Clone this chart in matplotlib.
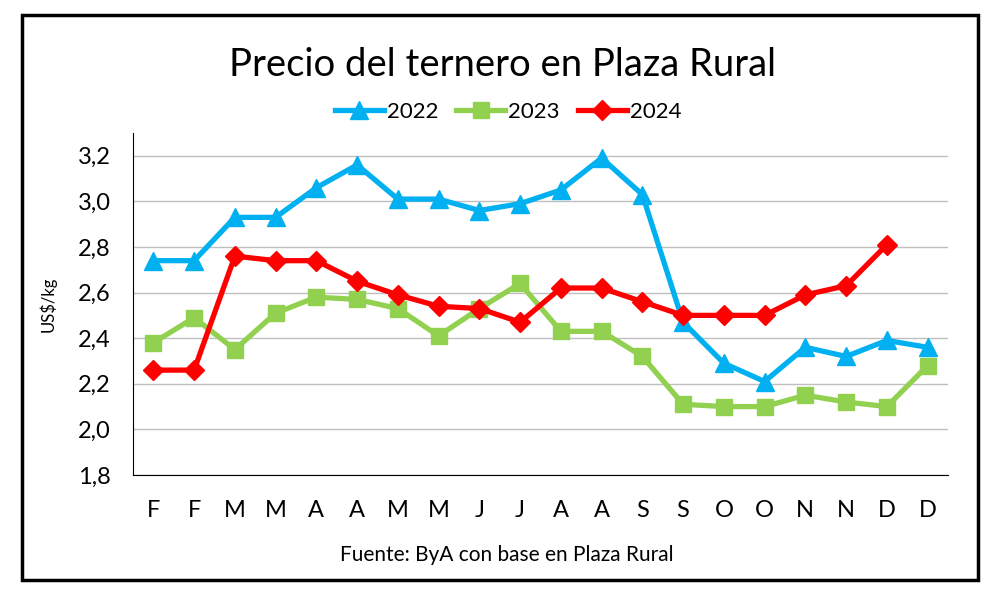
import matplotlib.pyplot as plt
from matplotlib.patches import Rectangle
from matplotlib.ticker import FuncFormatter

plt.rcParams['font.family'] = ['Lato', 'DejaVu Sans']

# Meses (dos registros por mes)
meses = ["F", "F", "M", "M", "A", "A", "M", "M", "J", "J",
         "A", "A", "S", "S", "O", "O", "N", "N", "D", "D"]

# Precios US$/kg
p2022 = [2.74, 2.74, 2.93, 2.93, 3.06, 3.16, 3.01, 3.01, 2.96, 2.99,
         3.05, 3.19, 3.03, 2.47, 2.29, 2.21, 2.36, 2.32, 2.39, 2.36]
p2023 = [2.38, 2.49, 2.35, 2.51, 2.58, 2.57, 2.53, 2.41, 2.53, 2.64,
         2.43, 2.43, 2.32, 2.11, 2.10, 2.10, 2.15, 2.12, 2.10, 2.28]
p2024 = [2.26, 2.26, 2.76, 2.74, 2.74, 2.65, 2.59, 2.54, 2.53, 2.47,
         2.62, 2.62, 2.56, 2.50, 2.50, 2.50, 2.59, 2.63, 2.81]

fig = plt.figure(figsize=(10, 5.95), dpi=100)
ax = fig.add_axes([0.133, 0.2017, 0.815, 0.5748])

x = list(range(len(meses)))
ax.plot(x, p2022, color="#00B0F0", lw=3.8, marker="^", ms=13, label="2022")
ax.plot(x, p2023, color="#92D050", lw=3.8, marker="s", ms=11.5, label="2023")
ax.plot(x[:len(p2024)], p2024, color="#FF0000", lw=3.8, marker="D", ms=10.5, label="2024")

ax.set_xlim(-0.5, len(meses) - 0.5)
ax.set_ylim(1.8, 3.3)
ax.set_yticks([1.8, 2.0, 2.2, 2.4, 2.6, 2.8, 3.0, 3.2])
ax.yaxis.set_major_formatter(FuncFormatter(lambda v, p: f"{v:.1f}".replace(".", ",")))
ax.set_xticks(x)
ax.set_xticklabels(meses)
ax.tick_params(length=0, labelsize=17)
ax.tick_params(axis="y", pad=16)
ax.tick_params(axis="x", pad=18)
ax.grid(axis="y", color="#BFBFBF", lw=1)
ax.set_axisbelow(True)
for s in ["top", "right"]:
    ax.spines[s].set_visible(False)
ax.spines["left"].set_color("black")
ax.spines["bottom"].set_color("black")
ax.set_ylabel("US$/kg", fontsize=12)
ax.yaxis.set_label_coords(-0.094, 0.5)

fig.text(0.503, 0.891, "Precio del ternero en Plaza Rural", ha="center", va="center", fontsize=27.5)
fig.legend(loc="center", bbox_to_anchor=(0.508, 0.812), ncol=3, frameon=False,
           fontsize=16, handlelength=2.2, columnspacing=0.8, handletextpad=0.15)
fig.text(0.507, 0.067, "Fuente: ByA con base en Plaza Rural", ha="center", va="center", fontsize=15)

fig.patches.append(Rectangle((0.022, 0.025), 0.956, 0.95, transform=fig.transFigure,
                             fill=False, edgecolor="black", lw=2.5))

fig.savefig("out.png", dpi=100)
